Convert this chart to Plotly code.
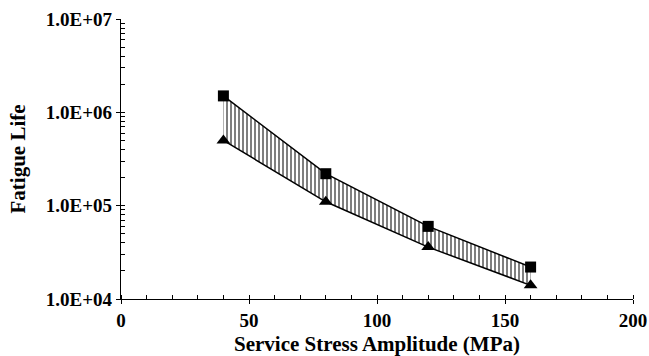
import plotly.graph_objects as go

# Service stress amplitude (MPa) and fatigue life bounds
stress = [40, 80, 120, 160]
life_upper = [1.5e6, 2.2e5, 6.0e4, 2.2e4]
life_lower = [5.0e5, 1.1e5, 3.6e4, 1.4e4]

y_tickvals = [1e4, 1e5, 1e6, 1e7]
y_ticktext = ["1.0E+04", "1.0E+05", "1.0E+06", "1.0E+07"]
x_tickvals = [0, 50, 100, 150, 200]
y_minor = [m * 10 ** e for e in (4, 5, 6) for m in range(2, 10)]

font_family = "Liberation Serif"
tick_font = dict(family=font_family, size=19, color="black")
title_font = dict(family=font_family, size=21, color="black")

fig = go.Figure()

fig.add_trace(go.Scatter(
    x=stress, y=life_lower, mode="lines+markers",
    line=dict(color="black", width=1.5),
    marker=dict(symbol="triangle-up", size=12, color="black"),
    showlegend=False,
))
fig.add_trace(go.Scatter(
    x=stress, y=life_upper, mode="lines+markers",
    line=dict(color="black", width=1.5),
    marker=dict(symbol="square", size=11, color="black"),
    fill="tonexty",
    fillcolor="white",
    fillpattern=dict(shape="|", fgcolor="black", bgcolor="white", size=4, solidity=0.5),
    showlegend=False,
))

axis_common = dict(
    showline=True, linecolor="black", linewidth=1.4,
    showgrid=False, zeroline=False, automargin=False,
    tickcolor="black", tickwidth=1.3, tickfont=tick_font,
)

fig.update_xaxes(
    range=[0, 200], tickvals=x_tickvals,
    ticktext=["<b>%d</b>" % v for v in x_tickvals],
    ticks="outside", ticklen=4,
    minor=dict(dtick=10, ticks="inside", ticklen=4, tickcolor="black", tickwidth=1.1),
    title=dict(text="<b>Service Stress Amplitude (MPa)</b>", font=title_font, standoff=6),
    **axis_common,
)
fig.update_yaxes(
    type="log", range=[4, 7],
    tickvals=y_tickvals, ticktext=["<b>%s</b>" % t for t in y_ticktext],
    ticks="outside", ticklen=4,
    minor=dict(tickvals=y_minor, ticks="inside", ticklen=4, tickcolor="black", tickwidth=1.1),
    title=dict(text="<b>Fatigue Life</b>", font=title_font, standoff=14),
    **axis_common,
)

# Inner halves of the major ticks so they cross the axis lines
fig.update_layout(
    xaxis2=dict(overlaying="x", range=[0, 200], tickvals=x_tickvals, ticks="inside",
                ticklen=4, tickcolor="black", tickwidth=1.3, showticklabels=False,
                showgrid=False, zeroline=False, showline=False, side="bottom"),
    yaxis2=dict(overlaying="y", type="log", range=[4, 7], tickvals=y_tickvals,
                ticks="inside", ticklen=4, tickcolor="black", tickwidth=1.3,
                showticklabels=False, showgrid=False, zeroline=False, showline=False),
)
fig.add_trace(go.Scatter(x=[None], y=[None], xaxis="x2", yaxis="y2", showlegend=False))

fig.update_layout(
    width=649, height=356,
    margin=dict(l=121, r=16, t=19, b=57),
    paper_bgcolor="white", plot_bgcolor="white",
    font=dict(family=font_family, color="black"),
)

fig.write_html("out.html")
